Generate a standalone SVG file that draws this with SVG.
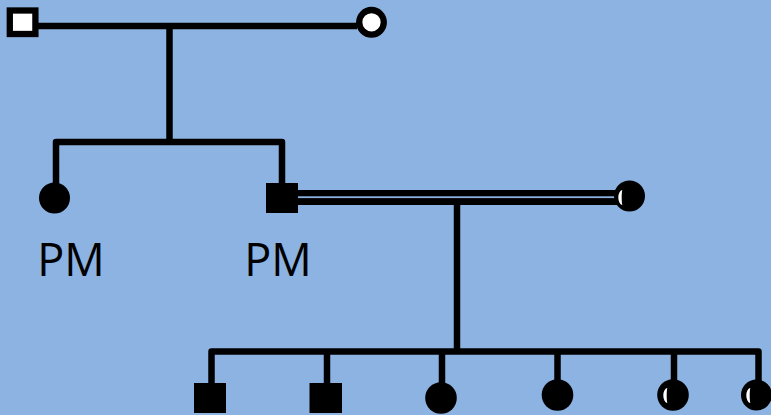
<svg xmlns="http://www.w3.org/2000/svg" width="771" height="415" viewBox="0 0 771 415">
  <style>
    .ln { fill: none; stroke: #000; stroke-width: 6.5; stroke-linejoin: round; stroke-linecap: butt; }
    .aff { fill: #000; }
    .unaff { fill: #fff; stroke: #000; stroke-width: 6.3; }
    .moon { fill: #fff; }
    .lbl { font-family: "Open Sans", "Noto Sans", sans-serif; font-size: 45px; fill: #000; text-anchor: middle; }
  </style>
  <defs>
    <!-- half-moon marking inside an affected circle, centred on 0,0 -->
    <path id="crescent" class="moon" d="M -3.5 -7.5 A 4.2 7.5 0 0 0 -3.5 7.5 A 0.8 7.5 0 0 1 -3.5 -7.5 Z"/>
  </defs>

  <rect x="0" y="0" width="771" height="415" fill="#8DB3E2"/>

  <g id="connectors">
    <!-- first couple and their sibship -->
    <line class="ln" x1="38" y1="26" x2="357" y2="26"/>
    <line class="ln" x1="169.5" y1="26" x2="169.5" y2="142"/>
    <polyline class="ln" points="56,184 56,142 282,142 282,184"/>
    <!-- consanguineous union (double line) -->
    <rect x="297" y="190" width="322" height="15" fill="#000"/>
    <rect x="297" y="196.3" width="320" height="1.8" fill="#8DB3E2"/>
    <line class="ln" x1="457" y1="205" x2="457" y2="352"/>
    <!-- second sibship -->
    <polyline class="ln" points="211.5,384 211.5,351.5 758.5,351.5 758.5,381"/>
    <line class="ln" x1="327" y1="351.5" x2="327" y2="384"/>
    <line class="ln" x1="442" y1="351.5" x2="442" y2="384"/>
    <line class="ln" x1="557.5" y1="351.5" x2="557.5" y2="381"/>
    <line class="ln" x1="674" y1="351.5" x2="674" y2="381"/>
  </g>

  <g id="grandfather">
    <rect class="unaff" x="9.8" y="10.5" width="25.6" height="23.5"/>
  </g>
  <g id="grandmother">
    <circle class="unaff" cx="371.5" cy="22.3" r="12.3"/>
  </g>

  <g id="daughter">
    <circle class="aff" cx="54.5" cy="198" r="15.5"/>
    <text class="lbl" x="71" y="276">PM</text>
  </g>
  <g id="son">
    <rect class="aff" x="266" y="183" width="32" height="30"/>
    <text class="lbl" x="278" y="276">PM</text>
  </g>
  <g id="spouse">
    <circle class="aff" cx="629.5" cy="196" r="15.5"/>
    <use href="#crescent" x="626" y="197.5"/>
  </g>

  <g id="child1">
    <rect class="aff" x="194" y="383" width="32" height="30"/>
  </g>
  <g id="child2">
    <rect class="aff" x="309.5" y="383" width="32.5" height="30"/>
  </g>
  <g id="child3">
    <circle class="aff" cx="441" cy="398" r="15.8"/>
  </g>
  <g id="child4">
    <circle class="aff" cx="557.5" cy="395" r="15.8"/>
  </g>
  <g id="child5">
    <circle class="aff" cx="673" cy="395" r="15.8"/>
    <use href="#crescent" x="671" y="395.5"/>
  </g>
  <g id="child6">
    <circle class="aff" cx="756.5" cy="395" r="15.5"/>
    <use href="#crescent" x="754" y="395.5"/>
  </g>
</svg>
